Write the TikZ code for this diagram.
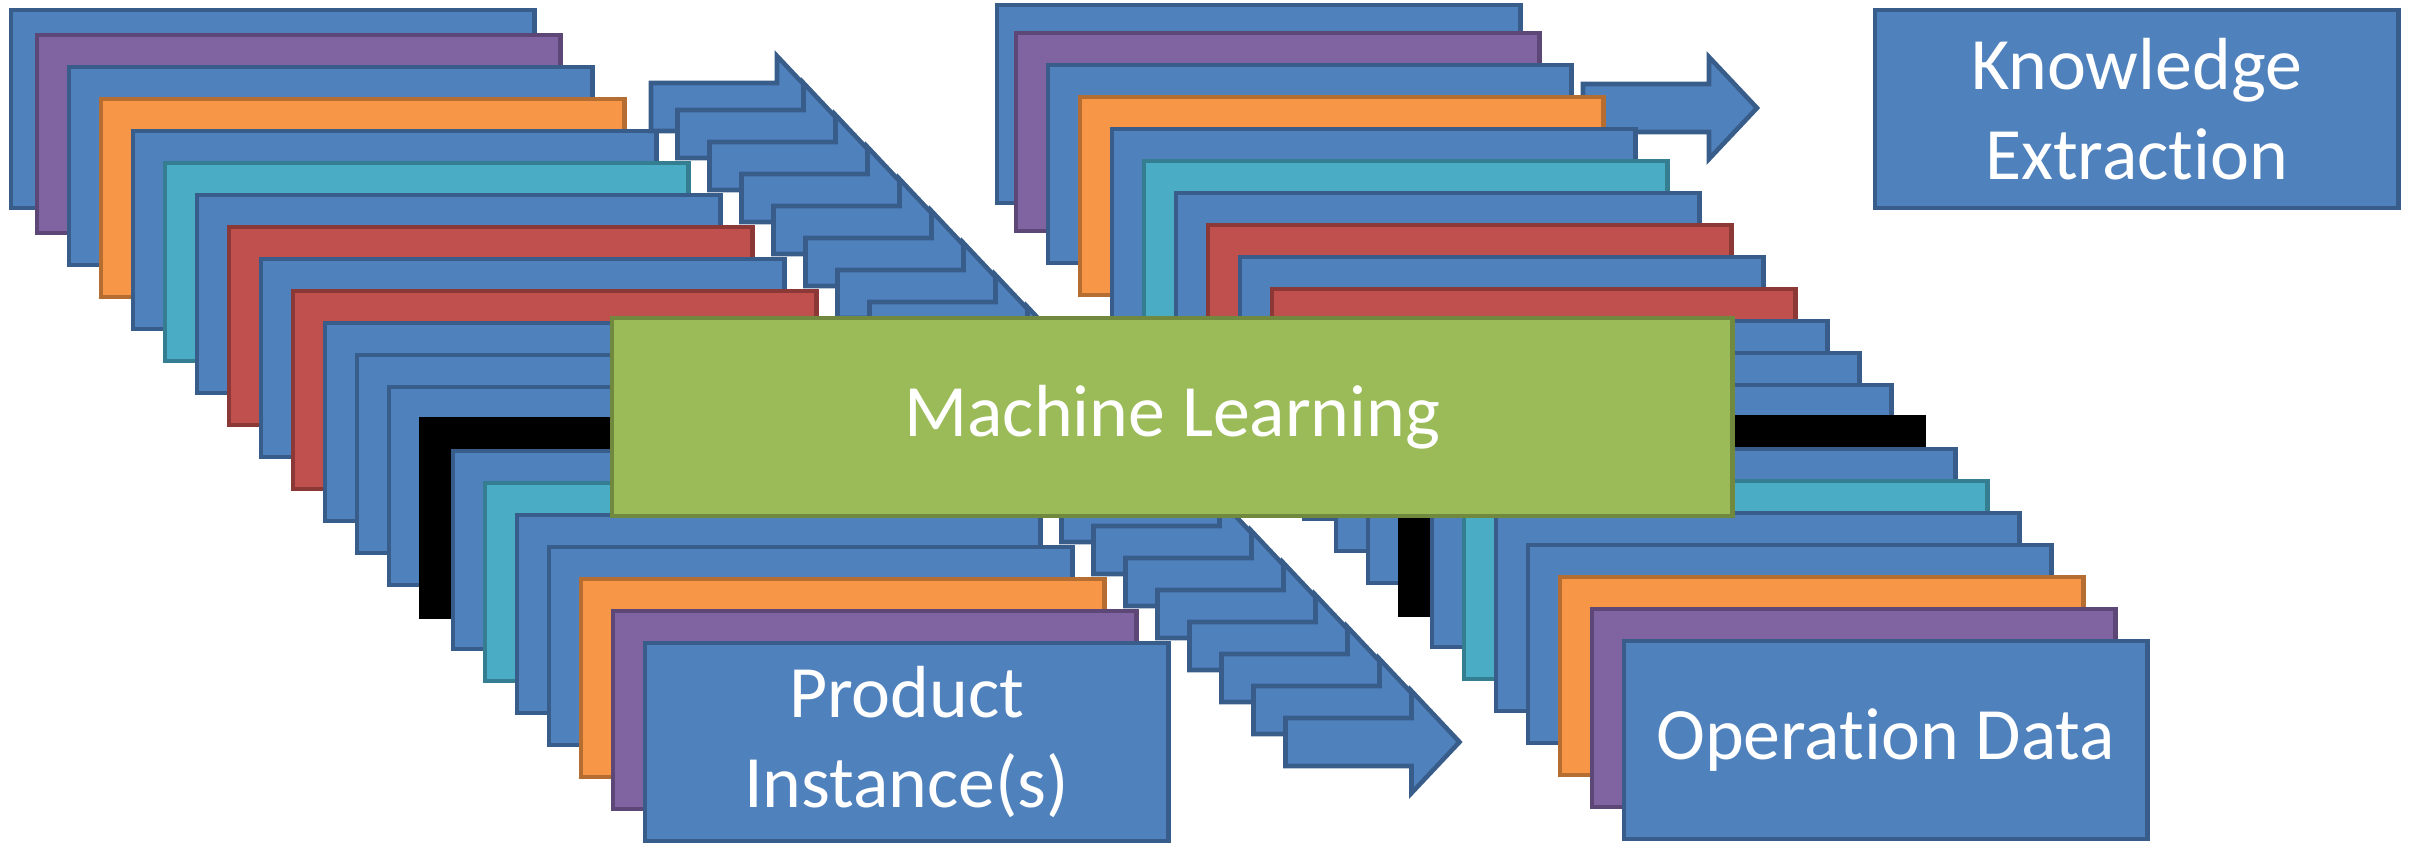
\documentclass[tikz,border=0pt]{standalone}
\usepackage{fontspec}
\setmainfont[Ligatures=NoCommon]{Carlito}
\usetikzlibrary{positioning}

\definecolor{boxblue}{HTML}{4F81BD}
\definecolor{boxblueline}{HTML}{385D8A}
\definecolor{boxpurple}{HTML}{8064A2}
\definecolor{boxpurpleline}{HTML}{5C4776}
\definecolor{boxorange}{HTML}{F79646}
\definecolor{boxorangeline}{HTML}{B66D31}
\definecolor{boxaqua}{HTML}{4BACC6}
\definecolor{boxaqualine}{HTML}{357D91}
\definecolor{boxred}{HTML}{C0504D}
\definecolor{boxredline}{HTML}{8C3836}
\definecolor{boxgreen}{HTML}{9BBB59}
\definecolor{boxgreenline}{HTML}{71893F}

\begin{document}
\begin{tikzpicture}[
        x=0.01cm, y=-0.01cm,
        card/.style={rectangle, line width=1.3pt, minimum width=5.23cm, minimum height=1.98cm, inner sep=0pt, outer sep=0pt, anchor=north west, align=center, text=white, font=\fontsize{21}{25.6}\selectfont},
        cblue/.style={fill=boxblue, draw=boxblueline},
        cpurple/.style={fill=boxpurple, draw=boxpurpleline},
        corange/.style={fill=boxorange, draw=boxorangeline},
        caqua/.style={fill=boxaqua, draw=boxaqualine},
        cred/.style={fill=boxred, draw=boxredline},
        cblack/.style={fill=black, draw=black},
        flowarrow/.style={fill=boxblue, draw=boxblueline, line width=1.3pt, line join=miter},
        pics/flowArrow/.style={code={
            \draw[flowarrow] (0,-24) -- ++(126,0) -- ++(0,-27) -- ++(48,51) -- ++(-48,51) -- ++(0,-27) -- ++(-126,0) -- cycle;
        }}
    ]
        \useasboundingbox (0,0) rectangle (2415,842);

        % Arrow to knowledge extraction (sits behind the data stack)
        \pic at (1583,108) {flowArrow};

        % Product instance stack
        \node[card, cblue] (pi1) at (11,10) {};
        \foreach \c [count=\i from 2] in {cpurple,cblue,corange,cblue,caqua,cblue,cred,cblue,cred,cblue,cblue,cblue,cblack,cblue,caqua,cblue,cblue,corange,cpurple}
            \node[card, \c] (pi\i) at ({37+32*(\i-2)},{35+32*(\i-2)}) {};
        \node[card, cblue] (pi21) at (645,643) {Product\\Instance(s)};

        % Stepped arrows between the stacks
        \pic at (651,107) {flowArrow};
        \foreach \i in {2,...,21}
            \pic at ({677.5+32*(\i-2)},{134+32*(\i-2)}) {flowArrow};

        % Operation data stack
        \node[card, cblue] (od1) at (997,5) {};
        \foreach \c [count=\i from 2] in {cpurple,cblue,corange,cblue,caqua,cblue,cred,cblue,cred,cblue,cblue,cblue,cblack,cblue,caqua,cblue,cblue,corange,cpurple}
            \node[card, \c] (od\i) at ({1016+32*(\i-2)},{33+32*(\i-2)}) {};
        \node[card, cblue] (od21) at (1624,641) {Operation Data};

        % Learning block on top
        \node[card, fill=boxgreen, draw=boxgreenline, minimum width=11.2cm] (ml) at (612,318) {Machine Learning};

        % Result
        \node[card, cblue] (ke) at (1875,10) {Knowledge\\Extraction};

    \end{tikzpicture}
\end{document}
